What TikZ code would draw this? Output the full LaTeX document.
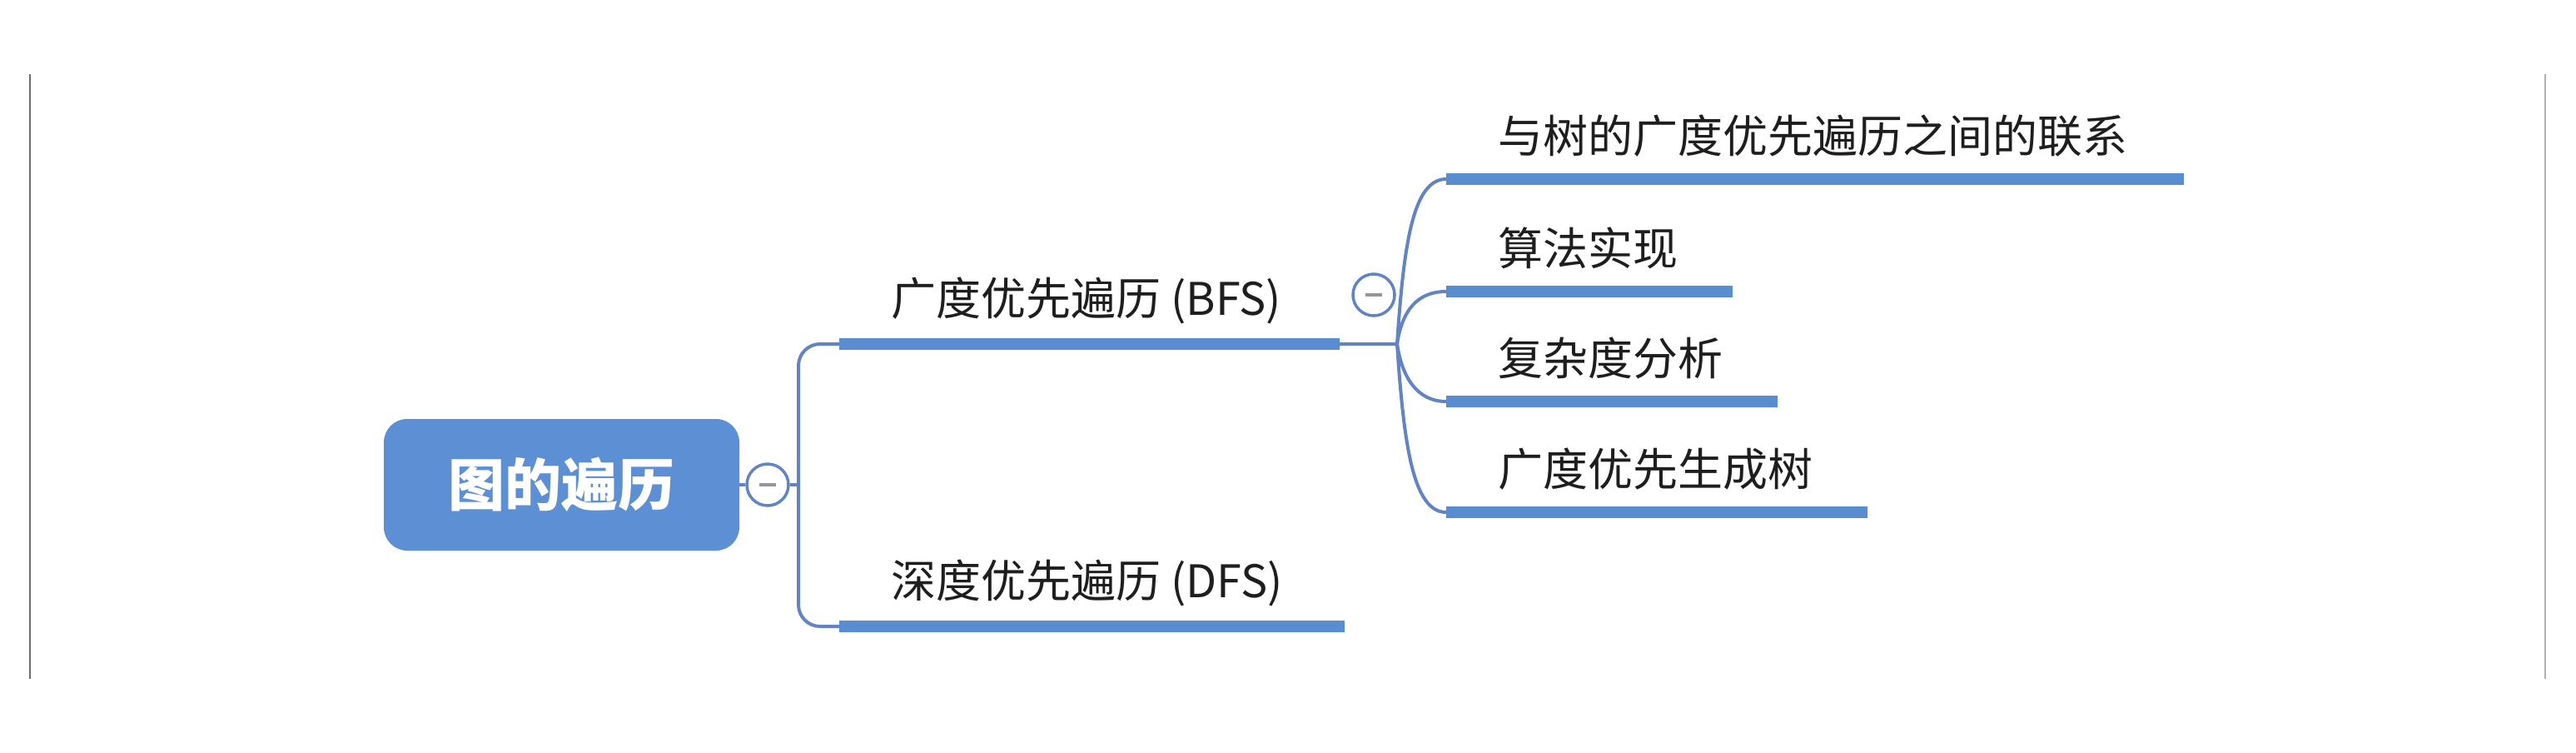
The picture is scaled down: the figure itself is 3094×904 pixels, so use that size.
\documentclass[tikz,border=0pt]{standalone}
\usepackage{fontspec}
\newfontfamily\cjk{Noto Sans CJK SC}
\definecolor{mapblue}{RGB}{90,140,208}
\definecolor{rootblue}{RGB}{92,143,212}
\definecolor{linkblue}{RGB}{98,132,196}
\definecolor{inkgray}{RGB}{30,30,30}
\definecolor{minusgray}{RGB}{150,150,155}
\definecolor{framegray}{RGB}{110,110,110}
\tikzset{
  topic/.style={anchor=south west, inner xsep=62pt, inner ysep=0pt, minimum height=104pt,
    font=\cjk\fontsize{54}{60}\selectfont, text=inkgray},
  bar/.style={draw=mapblue, line width=14pt},
  link/.style={draw=linkblue, line width=4pt},
  fold/.style={circle, draw=linkblue, line width=3.5pt, fill=white, minimum size=50pt, inner sep=0pt},
}
\begin{document}
\begin{tikzpicture}[x=1pt,y=1pt,yscale=-1,xscale=1]
\useasboundingbox (0,0) rectangle (3094,904);

%Frame lines
\draw[framegray, line width=2.5pt] (36,89) -- (36,815);
\draw[framegray!55, line width=2.5pt] (3057,89) -- (3057,815);

% Root
\node[rounded corners=28pt, fill=rootblue, minimum width=427pt, minimum height=158pt,
  font=\cjk\bfseries\fontsize{68}{76}\selectfont, text=white] (root) at (674.5,582) {图的遍历};
\node[fold] (fold1) at (922,582) {\color{minusgray}\rule{20pt}{4pt}};
\coordinate (trunk) at (959,582);

% Level 1
\node[topic] (bfs) at (1008,413) {广度优先遍历 (BFS)};
\node[topic] (dfs) at (1008,752) {深度优先遍历 (DFS)};
\coordinate (jn) at (1678,413);
\node[fold] (fold2) at (1650,354) {\color{minusgray}\rule{20pt}{4pt}};

% Level 2
\node[topic] (rel) at (1737,215) {与树的广度优先遍历之间的联系};
\node[topic] (impl) at (1737,350) {算法实现};
\node[topic] (cplx) at (1737,482) {复杂度分析};
\node[topic] (span) at (1737,615) {广度优先生成树};

% Links
\draw[link] (root) -- (fold1) -- (trunk);
\draw[link, rounded corners=26pt] (bfs.south west) -| (trunk) |- (dfs.south west);
\draw[link] ([xshift=8pt]bfs.south east) -- (jn);
\draw[link] (jn) .. controls +(8,-120) and +(-40,0) .. (rel.south west);
\draw[link] (jn) .. controls +(6,-40) and +(-35,0) .. (impl.south west);
\draw[link] (jn) .. controls +(6,40) and +(-35,0) .. (cplx.south west);
\draw[link] (jn) .. controls +(8,120) and +(-40,0) .. (span.south west);

% Bars
\draw[bar] (bfs.south west) -- ([xshift=8pt]bfs.south east);
\draw[bar] (dfs.south west) -- ([xshift=12pt]dfs.south east);
\draw[bar] (rel.south west) -- ([xshift=6pt]rel.south east);
\draw[bar] (impl.south west) -- ([xshift=4pt]impl.south east);
\draw[bar] (cplx.south west) -- ([xshift=4pt]cplx.south east);
\draw[bar] (span.south west) -- ([xshift=4pt]span.south east);

\end{tikzpicture}
\end{document}
